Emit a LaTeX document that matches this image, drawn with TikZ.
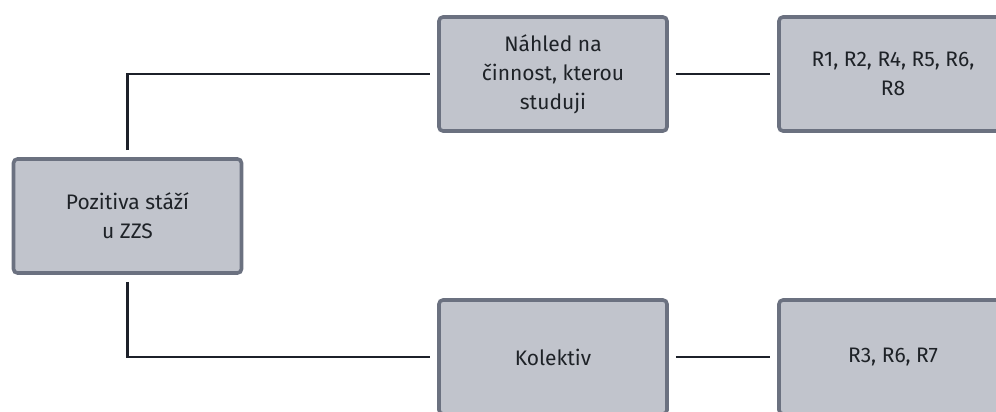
\documentclass[tikz,border=0pt]{standalone}
\usepackage{fontspec}
\setmainfont{Fira Sans}
\definecolor{boxfill}{HTML}{C1C4CC}
\definecolor{boxline}{HTML}{6B7180}
\definecolor{conn}{HTML}{1C2029}
\definecolor{txt}{HTML}{1E2227}
\newcommand{\boxfont}{\fontsize{21pt}{29pt}\selectfont}
\begin{document}
\begin{tikzpicture}[x=1pt,y=-1pt,
  box/.style={draw=boxline,fill=boxfill,line width=3.6pt,rounded corners=4pt,
    minimum width=228pt,minimum height=114pt,align=center,text=txt,
    font=\boxfont,inner sep=0pt},
  link/.style={draw=conn,line width=2.4pt,shorten <=7pt,shorten >=7pt}]
\useasboundingbox (0,0) rectangle (996,412);
\clip (0,0) rectangle (996,412);
\node[box] (P) at (127.5,216) {Pozitiva stáží\\u ZZS};
\node[box] (N) at (553,74) {Náhled na\\činnost, kterou\\studuji};
\node[box] (R1) at (893,74) {R1, R2, R4, R5, R6,\\R8};
\node[box] (K) at (553,357) {Kolektiv};
\node[box] (R2) at (893,357) {R3, R6, R7};
\draw[link] (P.north) |- (N.west);
\draw[link] (P.south) |- (K.west);
\draw[link] (N.east) -- (R1.west);
\draw[link] (K.east) -- (R2.west);
\end{tikzpicture}
\end{document}
